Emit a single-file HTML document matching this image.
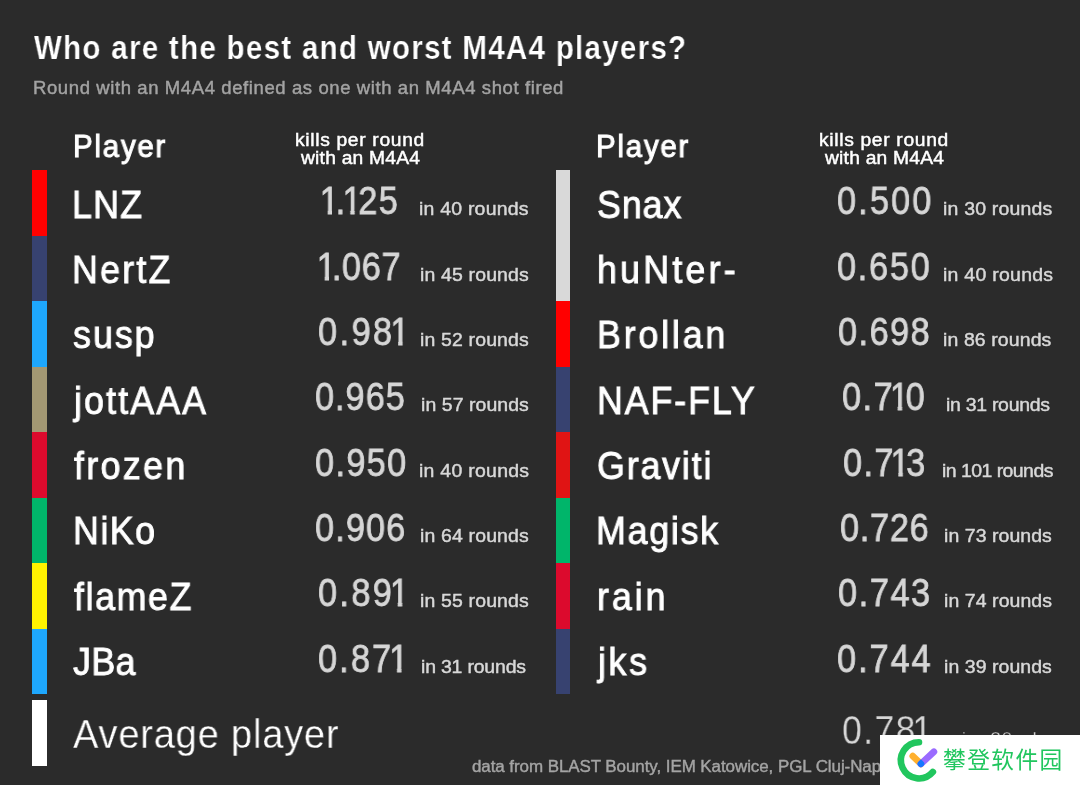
<!DOCTYPE html>
<html lang="en">
<head>
<meta charset="utf-8">
<title>Who are the best and worst M4A4 players?</title>
<style>
html,body{margin:0;padding:0}
body{width:1080px;height:785px;overflow:hidden;background:#2b2b2b;position:relative;font-family:"Liberation Sans",sans-serif}
.chart{position:absolute;left:0;top:0;width:1080px;height:785px;overflow:hidden;background:#2b2b2b}
.t{position:absolute;white-space:nowrap;transform-origin:0 0;will-change:transform;font-family:"Liberation Sans",sans-serif}
.bar{position:absolute;width:14.3px}
.wm{position:absolute;left:880px;top:735px;width:200px;height:50px;background:#ffffff}
.wm svg{position:absolute;left:0;top:0}
.wm .cn{position:absolute;left:63.3px;top:10.1px;font-family:"Liberation Sans","Noto Sans CJK SC",sans-serif;font-size:22.7px;line-height:30px;letter-spacing:1.45px;color:#21c65e;white-space:nowrap;will-change:transform}
</style>
</head>
<body>
<div class="chart">
<div class="bar" style="left:32.4px;top:170.20px;height:65.77px;background:#ff0000"></div>
<div class="bar" style="left:32.4px;top:235.67px;height:65.77px;background:#374270"></div>
<div class="bar" style="left:32.4px;top:301.15px;height:65.77px;background:#1ea7fd"></div>
<div class="bar" style="left:32.4px;top:366.62px;height:65.77px;background:#a39873"></div>
<div class="bar" style="left:32.4px;top:432.10px;height:65.77px;background:#dc0a2d"></div>
<div class="bar" style="left:32.4px;top:497.57px;height:65.77px;background:#00b56a"></div>
<div class="bar" style="left:32.4px;top:563.05px;height:65.77px;background:#fff200"></div>
<div class="bar" style="left:32.4px;top:628.52px;height:65.77px;background:#1ea7fd"></div>
<div class="bar" style="left:556.0px;top:170.20px;height:65.77px;background:#d9d9d9"></div>
<div class="bar" style="left:556.0px;top:235.67px;height:65.77px;background:#d9d9d9"></div>
<div class="bar" style="left:556.0px;top:301.15px;height:65.77px;background:#ff0000"></div>
<div class="bar" style="left:556.0px;top:366.62px;height:65.77px;background:#374270"></div>
<div class="bar" style="left:556.0px;top:432.10px;height:65.77px;background:#e01414"></div>
<div class="bar" style="left:556.0px;top:497.57px;height:65.77px;background:#00b56a"></div>
<div class="bar" style="left:556.0px;top:563.05px;height:65.77px;background:#dc0a2d"></div>
<div class="bar" style="left:556.0px;top:628.52px;height:65.77px;background:#374270"></div>
<div class="bar" style="left:32.4px;top:699.6px;height:66.8px;background:#ffffff"></div>
<div class="t title" style="left:33.51px;top:31.30px;font-size:33.5px;line-height:33.5px;color:#ffffff;letter-spacing:1.484px;font-weight:700;-webkit-text-stroke:0.2px #2b2b2b;transform:scaleX(0.8800);">Who are the best and worst M4A4 players?</div>
<div class="t sub" style="left:32.86px;top:78.80px;font-size:18.5px;line-height:18.5px;color:#a3a3a3;letter-spacing:0.600px;-webkit-text-stroke:0.45px #a3a3a3;">Round with an M4A4 defined as one with an M4A4 shot fired</div>
<div class="t hdr" style="left:72.84px;top:130.50px;font-size:31px;line-height:31px;color:#ffffff;letter-spacing:1.860px;-webkit-text-stroke:1.0px #ffffff;transform:scaleX(0.9500);">Player</div>
<div class="t kpr" style="left:295.07px;top:132.00px;font-size:17.5px;line-height:17.5px;color:#ffffff;letter-spacing:0.611px;-webkit-text-stroke:0.45px #ffffff;transform:scaleX(1.1000);">kills per round</div>
<div class="t kpr" style="left:300.94px;top:150.20px;font-size:17.5px;line-height:17.5px;color:#ffffff;letter-spacing:0.196px;-webkit-text-stroke:0.45px #ffffff;transform:scaleX(1.1000);">with an M4A4</div>
<div class="t hdr" style="left:596.44px;top:130.50px;font-size:31px;line-height:31px;color:#ffffff;letter-spacing:1.860px;-webkit-text-stroke:1.0px #ffffff;transform:scaleX(0.9500);">Player</div>
<div class="t kpr" style="left:818.67px;top:132.00px;font-size:17.5px;line-height:17.5px;color:#ffffff;letter-spacing:0.611px;-webkit-text-stroke:0.45px #ffffff;transform:scaleX(1.1000);">kills per round</div>
<div class="t kpr" style="left:824.54px;top:150.20px;font-size:17.5px;line-height:17.5px;color:#ffffff;letter-spacing:0.196px;-webkit-text-stroke:0.45px #ffffff;transform:scaleX(1.1000);">with an M4A4</div>
<div class="t name" style="left:72.48px;top:185.60px;font-size:38.5px;line-height:38.5px;color:#ffffff;letter-spacing:1.289px;-webkit-text-stroke:0.9px #ffffff;transform:scaleX(0.9300);">LNZ</div>
<div class="t name" style="left:72.48px;top:250.93px;font-size:38.5px;line-height:38.5px;color:#ffffff;letter-spacing:2.392px;-webkit-text-stroke:0.9px #ffffff;transform:scaleX(0.9300);">NertZ</div>
<div class="t name" style="left:73.04px;top:316.26px;font-size:38.5px;line-height:38.5px;color:#ffffff;letter-spacing:2.125px;-webkit-text-stroke:0.9px #ffffff;transform:scaleX(0.9300);">susp</div>
<div class="t name" style="left:73.57px;top:381.59px;font-size:38.5px;line-height:38.5px;color:#ffffff;letter-spacing:2.271px;-webkit-text-stroke:0.9px #ffffff;transform:scaleX(0.9300);">jottAAA</div>
<div class="t name" style="left:74.48px;top:446.92px;font-size:38.5px;line-height:38.5px;color:#ffffff;letter-spacing:2.540px;-webkit-text-stroke:0.9px #ffffff;transform:scaleX(0.9300);">frozen</div>
<div class="t name" style="left:72.98px;top:512.25px;font-size:38.5px;line-height:38.5px;color:#ffffff;letter-spacing:1.611px;-webkit-text-stroke:0.9px #ffffff;transform:scaleX(0.9300);">NiKo</div>
<div class="t name" style="left:74.48px;top:577.58px;font-size:38.5px;line-height:38.5px;color:#ffffff;letter-spacing:1.700px;-webkit-text-stroke:0.9px #ffffff;transform:scaleX(0.9300);">flameZ</div>
<div class="t name" style="left:73.07px;top:642.91px;font-size:38.5px;line-height:38.5px;color:#ffffff;letter-spacing:0.460px;-webkit-text-stroke:0.9px #ffffff;transform:scaleX(0.9300);">JBa</div>
<div class="t name" style="left:597.48px;top:185.60px;font-size:38.5px;line-height:38.5px;color:#ffffff;letter-spacing:0.998px;-webkit-text-stroke:0.9px #ffffff;transform:scaleX(0.9300);">Snax</div>
<div class="t name" style="left:597.29px;top:250.93px;font-size:38.5px;line-height:38.5px;color:#ffffff;letter-spacing:3.429px;-webkit-text-stroke:0.9px #ffffff;transform:scaleX(0.9300);">huNter-</div>
<div class="t name" style="left:596.68px;top:316.26px;font-size:38.5px;line-height:38.5px;color:#ffffff;letter-spacing:3.032px;-webkit-text-stroke:0.9px #ffffff;transform:scaleX(0.9300);">Brollan</div>
<div class="t name" style="left:596.68px;top:381.59px;font-size:38.5px;line-height:38.5px;color:#ffffff;letter-spacing:2.020px;-webkit-text-stroke:0.9px #ffffff;transform:scaleX(0.9300);">NAF-FLY</div>
<div class="t name" style="left:597.26px;top:446.92px;font-size:38.5px;line-height:38.5px;color:#ffffff;letter-spacing:1.950px;-webkit-text-stroke:0.9px #ffffff;transform:scaleX(0.9300);">Graviti</div>
<div class="t name" style="left:596.18px;top:512.25px;font-size:38.5px;line-height:38.5px;color:#ffffff;letter-spacing:1.880px;-webkit-text-stroke:0.9px #ffffff;transform:scaleX(0.9300);">Magisk</div>
<div class="t name" style="left:596.83px;top:577.58px;font-size:38.5px;line-height:38.5px;color:#ffffff;letter-spacing:3.156px;-webkit-text-stroke:0.9px #ffffff;transform:scaleX(0.9300);">rain</div>
<div class="t name" style="left:598.07px;top:642.91px;font-size:38.5px;line-height:38.5px;color:#ffffff;letter-spacing:2.798px;-webkit-text-stroke:0.9px #ffffff;transform:scaleX(0.9300);">jks</div>
<div class="t num" style="left:323.92px;top:182.40px;font-size:38.5px;line-height:38.5px;color:#d6d6d6;letter-spacing:1.652px;-webkit-text-stroke:0.8px #d6d6d6;transform:scaleX(0.8900);"><span style="display:inline-block;margin:0 -0.135em 0 -0.125em;clip-path:polygon(-2px -5px,23.41px -5px,23.41px 27.71px,13.84px 27.71px,13.84px 43.50px,8.91px 43.50px,8.91px 27.71px,-2px 27.71px)">1</span>.<span style="display:inline-block;margin:0 -0.135em 0 -0.125em;clip-path:polygon(-2px -5px,23.41px -5px,23.41px 27.71px,13.84px 27.71px,13.84px 43.50px,8.91px 43.50px,8.91px 27.71px,-2px 27.71px)">1</span>25</div>
<div class="t num" style="left:321.42px;top:247.73px;font-size:38.5px;line-height:38.5px;color:#d6d6d6;letter-spacing:0.736px;-webkit-text-stroke:0.8px #d6d6d6;transform:scaleX(0.8900);"><span style="display:inline-block;margin:0 -0.135em 0 -0.125em;clip-path:polygon(-2px -5px,23.41px -5px,23.41px 27.71px,13.84px 27.71px,13.84px 43.50px,8.91px 43.50px,8.91px 27.71px,-2px 27.71px)">1</span>.067</div>
<div class="t num" style="left:317.68px;top:313.06px;font-size:38.5px;line-height:38.5px;color:#d6d6d6;letter-spacing:2.774px;-webkit-text-stroke:0.8px #d6d6d6;transform:scaleX(0.8900);">0.98<span style="display:inline-block;margin:0 -0.135em 0 -0.125em;clip-path:polygon(-2px -5px,23.41px -5px,23.41px 27.71px,13.84px 27.71px,13.84px 43.50px,8.91px 43.50px,8.91px 27.71px,-2px 27.71px)">1</span></div>
<div class="t num" style="left:315.18px;top:378.39px;font-size:38.5px;line-height:38.5px;color:#d6d6d6;letter-spacing:1.127px;-webkit-text-stroke:0.8px #d6d6d6;transform:scaleX(0.8900);">0.965</div>
<div class="t num" style="left:314.68px;top:443.72px;font-size:38.5px;line-height:38.5px;color:#d6d6d6;letter-spacing:1.533px;-webkit-text-stroke:0.8px #d6d6d6;transform:scaleX(0.8900);">0.950</div>
<div class="t num" style="left:315.18px;top:509.05px;font-size:38.5px;line-height:38.5px;color:#d6d6d6;letter-spacing:1.280px;-webkit-text-stroke:0.8px #d6d6d6;transform:scaleX(0.8900);">0.906</div>
<div class="t num" style="left:317.68px;top:574.38px;font-size:38.5px;line-height:38.5px;color:#d6d6d6;letter-spacing:2.661px;-webkit-text-stroke:0.8px #d6d6d6;transform:scaleX(0.8900);">0.89<span style="display:inline-block;margin:0 -0.135em 0 -0.125em;clip-path:polygon(-2px -5px,23.41px -5px,23.41px 27.71px,13.84px 27.71px,13.84px 43.50px,8.91px 43.50px,8.91px 27.71px,-2px 27.71px)">1</span></div>
<div class="t num" style="left:318.48px;top:639.71px;font-size:38.5px;line-height:38.5px;color:#d6d6d6;letter-spacing:2.437px;-webkit-text-stroke:0.8px #d6d6d6;transform:scaleX(0.8900);">0.87<span style="display:inline-block;margin:0 -0.135em 0 -0.125em;clip-path:polygon(-2px -5px,23.41px -5px,23.41px 27.71px,13.84px 27.71px,13.84px 43.50px,8.91px 43.50px,8.91px 27.71px,-2px 27.71px)">1</span></div>
<div class="t num" style="left:836.68px;top:182.40px;font-size:38.5px;line-height:38.5px;color:#d6d6d6;letter-spacing:2.404px;-webkit-text-stroke:0.8px #d6d6d6;transform:scaleX(0.8900);">0.500</div>
<div class="t num" style="left:837.18px;top:247.73px;font-size:38.5px;line-height:38.5px;color:#d6d6d6;letter-spacing:1.955px;-webkit-text-stroke:0.8px #d6d6d6;transform:scaleX(0.8900);">0.650</div>
<div class="t num" style="left:838.48px;top:313.06px;font-size:38.5px;line-height:38.5px;color:#d6d6d6;letter-spacing:1.644px;-webkit-text-stroke:0.8px #d6d6d6;transform:scaleX(0.8900);">0.698</div>
<div class="t num" style="left:842.28px;top:378.39px;font-size:38.5px;line-height:38.5px;color:#d6d6d6;letter-spacing:1.646px;-webkit-text-stroke:0.8px #d6d6d6;transform:scaleX(0.8900);">0.7<span style="display:inline-block;margin:0 -0.135em 0 -0.125em;clip-path:polygon(-2px -5px,23.41px -5px,23.41px 27.71px,13.84px 27.71px,13.84px 43.50px,8.91px 43.50px,8.91px 27.71px,-2px 27.71px)">1</span>0</div>
<div class="t num" style="left:842.78px;top:443.72px;font-size:38.5px;line-height:38.5px;color:#d6d6d6;letter-spacing:1.533px;-webkit-text-stroke:0.8px #d6d6d6;transform:scaleX(0.8900);">0.7<span style="display:inline-block;margin:0 -0.135em 0 -0.125em;clip-path:polygon(-2px -5px,23.41px -5px,23.41px 27.71px,13.84px 27.71px,13.84px 43.50px,8.91px 43.50px,8.91px 27.71px,-2px 27.71px)">1</span>3</div>
<div class="t num" style="left:839.78px;top:509.05px;font-size:38.5px;line-height:38.5px;color:#d6d6d6;letter-spacing:0.831px;-webkit-text-stroke:0.8px #d6d6d6;transform:scaleX(0.8900);">0.726</div>
<div class="t num" style="left:837.98px;top:574.38px;font-size:38.5px;line-height:38.5px;color:#d6d6d6;letter-spacing:1.786px;-webkit-text-stroke:0.8px #d6d6d6;transform:scaleX(0.8900);">0.743</div>
<div class="t num" style="left:837.18px;top:639.71px;font-size:38.5px;line-height:38.5px;color:#d6d6d6;letter-spacing:2.233px;-webkit-text-stroke:0.8px #d6d6d6;transform:scaleX(0.8900);">0.744</div>
<div class="t rnd" style="left:419.17px;top:200.40px;font-size:18px;line-height:18px;color:#d8d8d8;letter-spacing:0.209px;-webkit-text-stroke:0.45px #d8d8d8;transform:scaleX(1.0800);">in 40 rounds</div>
<div class="t rnd" style="left:419.87px;top:265.73px;font-size:18px;line-height:18px;color:#d8d8d8;letter-spacing:0.150px;-webkit-text-stroke:0.45px #d8d8d8;transform:scaleX(1.0800);">in 45 rounds</div>
<div class="t rnd" style="left:419.67px;top:331.06px;font-size:18px;line-height:18px;color:#d8d8d8;letter-spacing:0.150px;-webkit-text-stroke:0.45px #d8d8d8;transform:scaleX(1.0800);">in 52 rounds</div>
<div class="t rnd" style="left:420.67px;top:396.39px;font-size:18px;line-height:18px;color:#d8d8d8;letter-spacing:0.066px;-webkit-text-stroke:0.45px #d8d8d8;transform:scaleX(1.0800);">in 57 rounds</div>
<div class="t rnd" style="left:418.87px;top:461.72px;font-size:18px;line-height:18px;color:#d8d8d8;letter-spacing:0.260px;-webkit-text-stroke:0.45px #d8d8d8;transform:scaleX(1.0800);">in 40 rounds</div>
<div class="t rnd" style="left:419.67px;top:527.05px;font-size:18px;line-height:18px;color:#d8d8d8;letter-spacing:0.150px;-webkit-text-stroke:0.45px #d8d8d8;transform:scaleX(1.0800);">in 64 rounds</div>
<div class="t rnd" style="left:419.67px;top:592.38px;font-size:18px;line-height:18px;color:#d8d8d8;letter-spacing:0.150px;-webkit-text-stroke:0.45px #d8d8d8;transform:scaleX(1.0800);">in 55 rounds</div>
<div class="t rnd" style="left:421.37px;top:657.71px;font-size:18px;line-height:18px;color:#d8d8d8;letter-spacing:-0.170px;-webkit-text-stroke:0.45px #d8d8d8;transform:scaleX(1.0800);">in 31 rounds</div>
<div class="t rnd" style="left:943.47px;top:200.40px;font-size:18px;line-height:18px;color:#d8d8d8;letter-spacing:0.192px;-webkit-text-stroke:0.45px #d8d8d8;transform:scaleX(1.0800);">in 30 rounds</div>
<div class="t rnd" style="left:942.67px;top:265.73px;font-size:18px;line-height:18px;color:#d8d8d8;letter-spacing:0.260px;-webkit-text-stroke:0.45px #d8d8d8;transform:scaleX(1.0800);">in 40 rounds</div>
<div class="t rnd" style="left:943.47px;top:331.06px;font-size:18px;line-height:18px;color:#d8d8d8;letter-spacing:0.108px;-webkit-text-stroke:0.45px #d8d8d8;transform:scaleX(1.0800);">in 86 rounds</div>
<div class="t rnd" style="left:945.77px;top:396.39px;font-size:18px;line-height:18px;color:#d8d8d8;letter-spacing:-0.254px;-webkit-text-stroke:0.45px #d8d8d8;transform:scaleX(1.0800);">in 31 rounds</div>
<div class="t rnd" style="left:942.17px;top:461.72px;font-size:18px;line-height:18px;color:#d8d8d8;letter-spacing:-0.495px;-webkit-text-stroke:0.45px #d8d8d8;transform:scaleX(1.0800);">in 101 rounds</div>
<div class="t rnd" style="left:943.97px;top:527.05px;font-size:18px;line-height:18px;color:#d8d8d8;letter-spacing:0.066px;-webkit-text-stroke:0.45px #d8d8d8;transform:scaleX(1.0800);">in 73 rounds</div>
<div class="t rnd" style="left:943.77px;top:592.38px;font-size:18px;line-height:18px;color:#d8d8d8;letter-spacing:0.083px;-webkit-text-stroke:0.45px #d8d8d8;transform:scaleX(1.0800);">in 74 rounds</div>
<div class="t rnd" style="left:943.97px;top:657.71px;font-size:18px;line-height:18px;color:#d8d8d8;letter-spacing:0.066px;-webkit-text-stroke:0.45px #d8d8d8;transform:scaleX(1.0800);">in 39 rounds</div>
<div class="t avg" style="left:73.17px;top:713.80px;font-size:40px;line-height:40px;color:#ffffff;letter-spacing:0.864px;-webkit-text-stroke:0.3px #2b2b2b;transform:scaleX(0.9500);">Average player</div>
<div class="t avgnum" style="left:842.47px;top:710.40px;font-size:40px;line-height:40px;color:#d6d6d6;letter-spacing:1.554px;-webkit-text-stroke:0.3px #2b2b2b;transform:scaleX(0.8900);">0.78<span style="display:inline-block;margin:0 -0.135em 0 -0.125em;clip-path:polygon(-2px -5px,24.24px -5px,24.24px 30.00px,13.95px 30.00px,13.95px 45.00px,9.69px 45.00px,9.69px 30.00px,-2px 30.00px)">1</span></div>
<div class="t avgr" style="left:944.51px;top:730.00px;font-size:18px;line-height:18px;color:#cfcfcf;letter-spacing:0.559px;-webkit-text-stroke:0.3px #2b2b2b;transform:scaleX(1.0800);">min. 30 rds</div>
<div class="t foot" style="left:471.55px;top:759.20px;font-size:16px;line-height:16px;color:#a4a4a4;letter-spacing:-0.066px;-webkit-text-stroke:0.4px #a4a4a4;transform:scaleX(1.0600);">data from BLAST Bounty, IEM Katowice, PGL Cluj-Napoca</div>
<div class="wm">
<svg width="200" height="50" viewBox="880 735 200 50">
  <defs>
    <mask id="mk" maskUnits="userSpaceOnUse" x="880" y="735" width="200" height="50">
      <line x1="920.9" y1="763.9" x2="933.9" y2="751.7" stroke="#fff" stroke-width="6.7" stroke-linecap="round"/>
    </mask>
  </defs>
  <path d="M919 742.2 A18.1 18.1 0 1 0 932.87 771.93" fill="none" stroke="#21c65e" stroke-width="6.6" stroke-linecap="round"/>
  <line x1="912.8" y1="756.1" x2="920.9" y2="763.9" stroke="#ffb02e" stroke-width="6.7" stroke-linecap="round"/>
  <line x1="920.9" y1="763.9" x2="933.9" y2="751.7" stroke="#9a6bff" stroke-width="6.7" stroke-linecap="round"/>
  <line x1="912.8" y1="756.1" x2="920.9" y2="763.9" stroke="#1677ff" stroke-width="6.7" stroke-linecap="round" mask="url(#mk)"/>
</svg>
<div class="cn">攀登软件园</div>
</div>
</div>
</body>
</html>
